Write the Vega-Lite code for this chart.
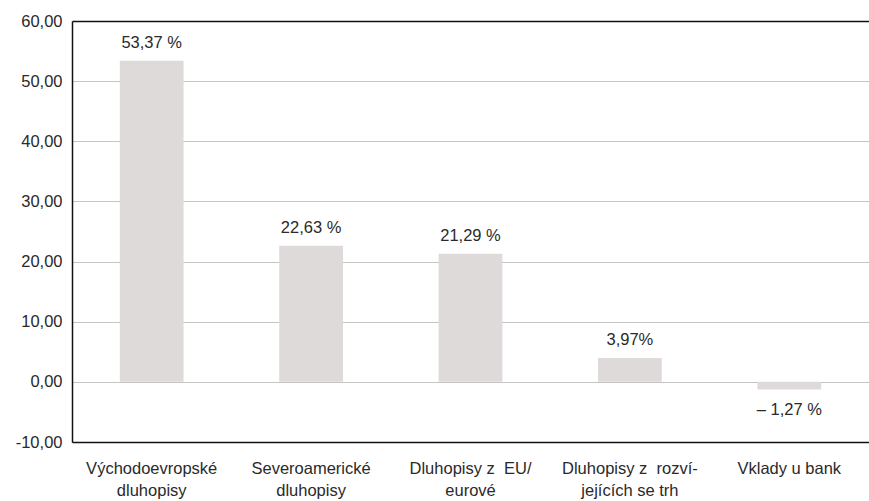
{
  "$schema": "https://vega.github.io/schema/vega-lite/v6.json",
  "autosize": "none",
  "width": 797,
  "height": 421,
  "padding": {"left": 72, "top": 21, "right": 0, "bottom": 59},
  "background": "white",
  "config": {
    "view": {"stroke": null},
    "font": "Liberation Sans",
    "text": {"font": "Liberation Sans", "fontSize": 16.5, "color": "#2a2a2a"}
  },
  "data": {
    "values": [
      {"category": "Východoevropské\ndluhopisy", "value": 53.37, "label": "53,37 %"},
      {"category": "Severoamerické\ndluhopisy", "value": 22.63, "label": "22,63 %"},
      {"category": "Dluhopisy z  EU/\neurové", "value": 21.29, "label": "21,29 %"},
      {"category": "Dluhopisy z  rozví-\njejících se trh", "value": 3.97, "label": "3,97%"},
      {"category": "Vklady u bank", "value": -1.27, "label": "– 1,27 %"}
    ]
  },
  "encoding": {
    "x": {
      "field": "category",
      "type": "nominal",
      "sort": null,
      "scale": {"paddingInner": 0.6, "paddingOuter": 0.3},
      "axis": {
        "title": null,
        "ticks": false,
        "domainColor": "#111",
        "domainWidth": 1.5,
        "labelAngle": 0,
        "labelFont": "Liberation Sans",
        "labelFontSize": 16.5,
        "labelColor": "#2a2a2a",
        "labelPadding": 18,
        "labelLineHeight": 22,
        "labelLimit": 0,
        "labelExpr": "split(replace(datum.label, '  ', '\u00a0 '), '\\n')"
      }
    },
    "y": {
      "field": "value",
      "type": "quantitative",
      "scale": {"domain": [-10, 60], "nice": false},
      "axis": {
        "title": null,
        "values": [-10, 0, 10, 20, 30, 40, 50, 60],
        "ticks": false,
        "domainColor": "#111",
        "domainWidth": 1.5,
        "labelFont": "Liberation Sans",
        "labelFontSize": 16.5,
        "labelColor": "#2a2a2a",
        "labelPadding": 10,
        "labelExpr": "replace(replace(format(datum.value, '.2f'), '.', ','), '\u2212', '-')",
        "grid": true,
        "gridColor": {"condition": {"test": "datum.value === 60", "value": "#111"}, "value": "#888"},
        "gridWidth": {"condition": {"test": "datum.value === 60", "value": 1.5}, "value": 1},
        "gridDash": {"condition": {"test": "datum.value === 60", "value": []}, "value": [1, 1]}
      }
    }
  },
  "layer": [
    {
      "mark": {"type": "bar", "color": "#dedada"}
    },
    {
      "transform": [{"filter": "datum.value >= 0"}],
      "mark": {"type": "text", "baseline": "alphabetic", "dy": -13},
      "encoding": {"text": {"field": "label"}}
    },
    {
      "transform": [{"filter": "datum.value < 0"}],
      "mark": {"type": "text", "baseline": "top", "dy": 13},
      "encoding": {"text": {"field": "label"}}
    }
  ]
}
